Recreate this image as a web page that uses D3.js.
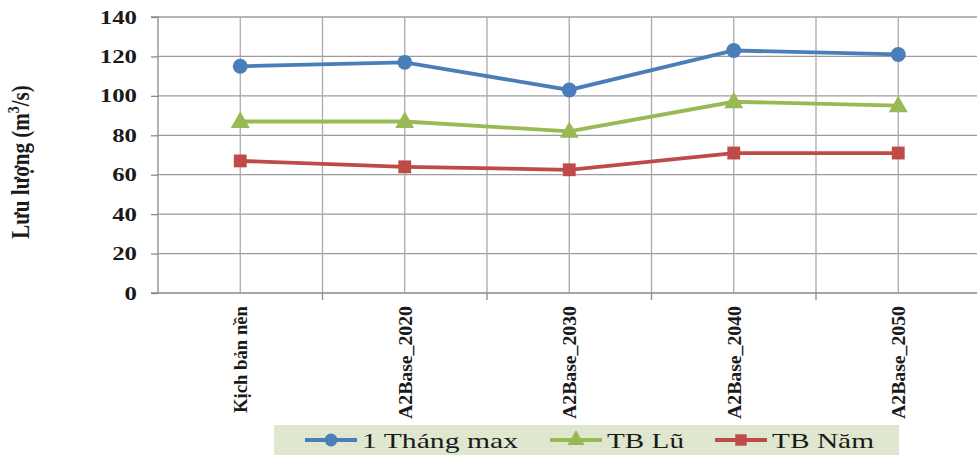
<!DOCTYPE html>
<html><head><meta charset="utf-8">
<script src="https://cdn.jsdelivr.net/npm/d3@7"></script>
<style>body{margin:0;background:#fff}svg{display:block}</style>
</head><body>
<svg id="c" width="977" height="455"></svg>
<script>
const categories = ["Kịch bản nền", "A2Base_2020", "A2Base_2030", "A2Base_2040", "A2Base_2050"];
const seriesNames = ["1 Tháng max", "TB Lũ", "TB Năm"];
const thangMax = [115, 117, 103, 123, 121];
const tbLu = [87, 87, 82, 97, 95];
const tbNam = [67, 64, 62.5, 71, 71];
const yTicks = [0, 20, 40, 60, 80, 100, 120, 140];
const colors = ["#4a7ebb", "#98b954", "#be4b48"];
const symbols = [d3.symbolCircle, d3.symbolTriangle, d3.symbolSquare];
const series = [thangMax, tbLu, tbNam];

const svg = d3.select("#c");
const L = 158, T = 17, B = 293, bw = 164.5;
const x = d3.scaleBand().domain(categories).range([L, L + bw * categories.length]);
const y = d3.scaleLinear().domain([0, 140]).range([B, T]);
const cx = c => x(c) + x.bandwidth() / 2;
const serif = "'Liberation Serif','Times New Roman',serif";

// gridlines
const g = svg.append("g");
g.selectAll(".hg").data(yTicks.slice(1)).join("line")
  .attr("x1", L).attr("x2", 977).attr("y1", d => y(d)).attr("y2", d => y(d))
  .attr("stroke", "#9c9c9c").attr("stroke-width", 1.3);
const vlines = [];
categories.forEach((c, i) => { vlines.push(cx(c)); vlines.push(x(c) + x.bandwidth()); });
g.selectAll(".vg").data(vlines).join("line")
  .attr("x1", d => d).attr("x2", d => d).attr("y1", T).attr("y2", B)
  .attr("stroke", "#aaaaaa").attr("stroke-width", 1.3);

// axes
const ya = svg.append("g").attr("transform", `translate(${L},0)`)
  .call(d3.axisLeft(y).tickValues(yTicks).tickSize(7).tickPadding(14));
ya.select(".domain").attr("stroke", "#8a8a8a").attr("stroke-width", 1.3).attr("d", `M-7,${T}H0V${B}H-7`);
ya.selectAll(".tick line").attr("stroke", "#8a8a8a").attr("stroke-width", 1.3);
ya.selectAll(".tick text").attr("font-family", serif).attr("font-weight", "bold")
  .attr("font-size", 19).attr("fill", "#1a1a1a")
  .attr("textLength", d => String(d).length * 12.4).attr("lengthAdjust", "spacingAndGlyphs");

const xa = svg.append("g").attr("transform", `translate(0,${B})`)
  .call(d3.axisBottom(x).tickSize(7).tickSizeOuter(0));
xa.select(".domain").attr("stroke", "#8a8a8a").attr("stroke-width", 1.3).attr("d", `M${L},0H977`);
xa.selectAll(".tick line").attr("stroke", "#8a8a8a").attr("stroke-width", 1.3)
  .attr("transform", d => `translate(${x.bandwidth() / 2},0)`);
xa.selectAll(".tick text").attr("font-family", serif).attr("font-weight", "bold")
  .attr("font-size", 15).attr("fill", "#1a1a1a")
  .attr("transform", "scale(1.3,1) rotate(-90)").attr("text-anchor", "end")
  .attr("x", -13).attr("y", 0).attr("dy", "0.35em")
  .attr("textLength", d => d === categories[0] ? 107 : 113).attr("lengthAdjust", "spacingAndGlyphs");

// axis title
svg.append("text").attr("transform", "translate(29,162) scale(1.2,1) rotate(-90)")
  .attr("text-anchor", "middle").attr("font-family", serif).attr("font-weight", "bold")
  .attr("font-size", 21).attr("fill", "#1a1a1a")
  .html('Lưu lượng (m<tspan dy="-8" font-size="14">3</tspan><tspan dy="8">/s)</tspan>');

// series
const line = d3.line().x((d, i) => cx(categories[i])).y(d => y(d));
series.forEach((s, k) => {
  svg.append("path").attr("d", line(s)).attr("fill", "none")
    .attr("stroke", colors[k]).attr("stroke-width", 3.8);
  svg.selectAll(".m" + k).data(s).join("path")
    .attr("transform", (d, i) => `translate(${cx(categories[i])},${y(d) + (k === 1 ? 1 : 0)})`)
    .attr("d", d3.symbol().type(symbols[k]).size(k === 0 ? 175 : (k === 1 ? 155 : 165)))
    .attr("fill", colors[k]);
});

// legend
const lg = svg.append("g");
lg.append("rect").attr("x", 274).attr("y", 425).attr("width", 625).attr("height", 35).attr("fill", "#dfe8cf");
const legX = [305, 550, 715];
const legW = [156, 77, 102];
seriesNames.forEach((n, k) => {
  const lx = legX[k], ly = 440;
  lg.append("line").attr("x1", lx).attr("x2", lx + 52).attr("y1", ly).attr("y2", ly)
    .attr("stroke", colors[k]).attr("stroke-width", 3.8);
  lg.append("path").attr("transform", `translate(${lx + 26},${ly})`)
    .attr("d", d3.symbol().type(symbols[k]).size(130)).attr("fill", colors[k]);
  lg.append("text").attr("x", lx + 57).attr("y", ly).attr("dy", "0.35em")
    .attr("font-family", serif).attr("font-size", 22).attr("fill", "#1a1a1a")
    .attr("textLength", legW[k]).attr("lengthAdjust", "spacingAndGlyphs").text(n);
});
</script>
</body></html>
